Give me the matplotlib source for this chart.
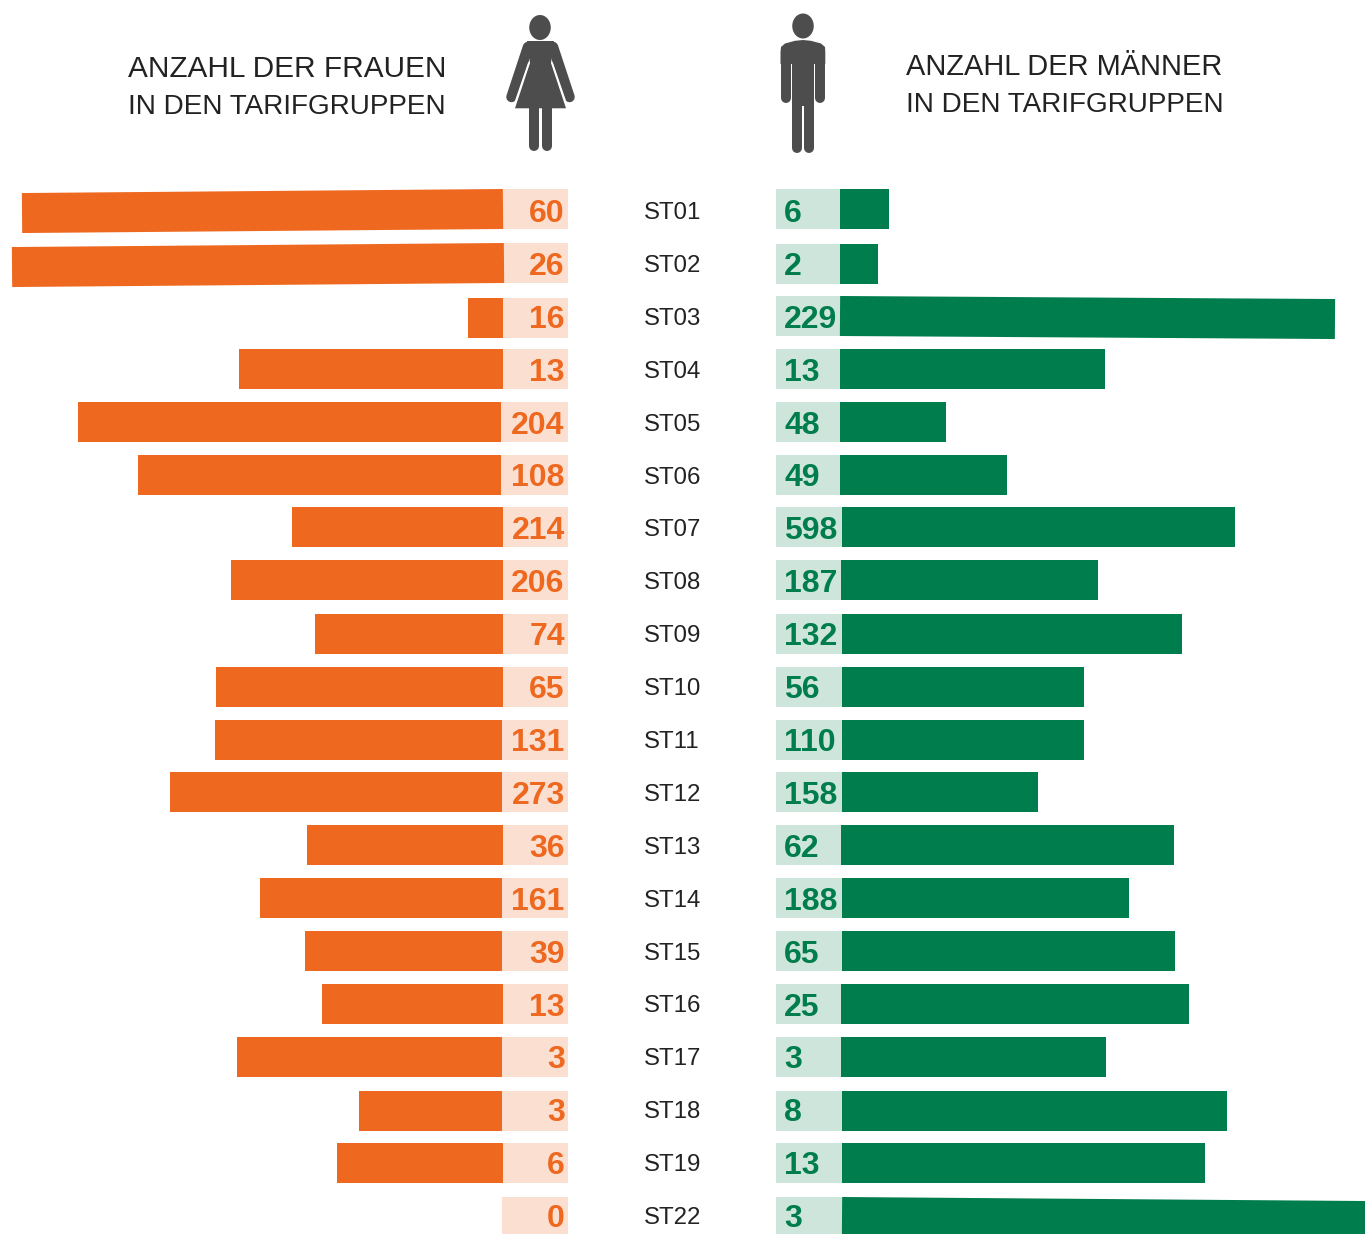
import matplotlib
matplotlib.use("Agg")
import matplotlib.pyplot as plt
from matplotlib.patches import Ellipse, Polygon
from matplotlib.transforms import Affine2D

plt.rcParams['font.family'] = ['Liberation Sans', 'DejaVu Sans']

# ---- data ----
groups = ["ST01","ST02","ST03","ST04","ST05","ST06","ST07","ST08","ST09","ST10",
          "ST11","ST12","ST13","ST14","ST15","ST16","ST17","ST18","ST19","ST22"]
women_labels = [60,26,16,13,204,108,214,206,74,65,131,273,36,161,39,13,3,3,6,0]
men_labels   = [6,2,229,13,48,49,598,187,132,56,110,158,62,188,65,25,3,8,13,3]
# bar lengths as drawn in the picture (they do not follow the printed labels)
women_bars = [481,492,35,264,423,363,211,272,188,287,287,332,196,242,197,181,265,143,166,0]
men_bars   = [49,38,495,265,106,167,393,257,340,242,242,196,333,287,333,348,265,385,363,530]

# ---- layout ----
W, H = 1365, 1234
women_y = [209,263,318,369,422,474.5,527,580,634,687,739.5,792,845,897.5,951,1004,1057,1111,1163,1217]
men_y   = [209,264,316,369,422,474.5,527,580,634,687,739.5,792,845,897.5,951,1004,1057,1111,1163,1217]
women_edge = [503,504,503,503,501,501,503,503,503,503,502,502,503,502,502,503,502,502,503,502]
men_edge   = [840,840,840,840,840,840,842,841,842,842,842,842,841,842,842,841,841,842,842,842]
tilt_w = {0:-0.48, 1:-0.47}
tilt_m = {2:0.35, 19:0.44}
BAR_H = 40
LABEL_TOP, LABEL_STEP = 211, 52.9

ORANGE, ORANGE_PALE = "#EE681F", "#FBE0D2"
GREEN, GREEN_PALE = "#007D4C", "#CEE5DC"
ICON, DARK = "#4D4D4D", "#222222"

fig = plt.figure(figsize=(W/100, H/100), dpi=100)
ax = fig.add_axes([0, 0, 1, 1])
ax.set_xlim(0, W)
ax.set_ylim(H, 0)
ax.axis("off")

for i, g in enumerate(groups):
    yw, ym = women_y[i], men_y[i]
    ax.barh(yw, 568 - women_edge[i], left=women_edge[i], height=BAR_H, color=ORANGE_PALE, lw=0)
    ax.barh(ym, men_edge[i] - 776, left=776, height=BAR_H, color=GREEN_PALE, lw=0)
    if women_bars[i]:
        b = ax.barh(yw, -women_bars[i], left=women_edge[i], height=BAR_H, color=ORANGE, lw=0)[0]
        if i in tilt_w:
            b.set_transform(Affine2D().rotate_deg_around(women_edge[i], yw, tilt_w[i]) + ax.transData)
    b = ax.barh(ym, men_bars[i], left=men_edge[i], height=BAR_H, color=GREEN, lw=0)[0]
    if i in tilt_m:
        b.set_transform(Affine2D().rotate_deg_around(men_edge[i], ym, tilt_m[i]) + ax.transData)
    ty = LABEL_TOP + LABEL_STEP * i
    ax.text(564.7, ty + 11, str(women_labels[i]), ha="right", va="baseline", color=ORANGE,
            fontsize=23, fontweight="bold")
    ax.text(784.3, ty + 11, str(men_labels[i]), ha="left", va="baseline", color=GREEN,
            fontsize=23, fontweight="bold")
    ax.text(643.5, ty + 8, g, ha="left", va="baseline", color=DARK, fontsize=17.3)

ax.set_xlim(0, W)
ax.set_ylim(H, 0)

# ---- headings ----
for x, y0, lines in [(128, 77, ["ANZAHL DER FRAUEN", "IN DEN TARIFGRUPPEN"]),
                     (906, 75, ["ANZAHL DER MÄNNER", "IN DEN TARIFGRUPPEN"])]:
    for line, dy, size in zip(lines, (0, 37), (21.45 if x < 500 else 20.9, 20.1)):
        ax.text(x, y0 + dy, line, ha="left", va="baseline", color=DARK, fontsize=size)

# ---- pictograms ----
def limb(xs, ys, width, color=ICON):
    ax.plot(xs, ys, color=color, lw=width * 0.72, solid_capstyle="round", solid_joinstyle="round")

# woman
ax.add_patch(Ellipse((540, 27.5), 21.5, 25, color=ICON, lw=0))
limb([528, 511.5], [47, 97], 10.5)
limb([553, 569.5], [47, 97], 10.5)
limb([528.8, 514], [63, 106], 1.6, "white")
limb([552.2, 567], [63, 106], 1.6, "white")
ax.add_patch(Polygon([(527, 41), (554, 41), (551, 63), (566, 108.3), (515, 108.3), (530, 63)],
                     closed=True, color=ICON, lw=0))
limb([534, 534], [105, 145.5], 10)
limb([547, 547], [105, 145.5], 10)

# man
ax.add_patch(Ellipse((803, 26), 21.5, 25, color=ICON, lw=0))
limb([785.5, 785.5], [52, 98], 10)
limb([820.3, 820.3], [52, 98], 10)
ax.add_patch(Polygon([(780.5, 52), (781, 47), (785, 43.5), (795, 40.8), (803, 40), (811, 40.8),
                      (821, 43.5), (825, 47), (825.3, 52), (825.3, 64), (780.5, 64)],
                     closed=True, color=ICON, lw=0))
ax.add_patch(Polygon([(792, 60), (814, 60), (814, 106), (792, 106)], closed=True, color=ICON, lw=0))
limb([797, 797], [100, 148], 10)
limb([809, 809], [100, 148], 10)

fig.savefig("out.png", dpi=100, facecolor="white")
